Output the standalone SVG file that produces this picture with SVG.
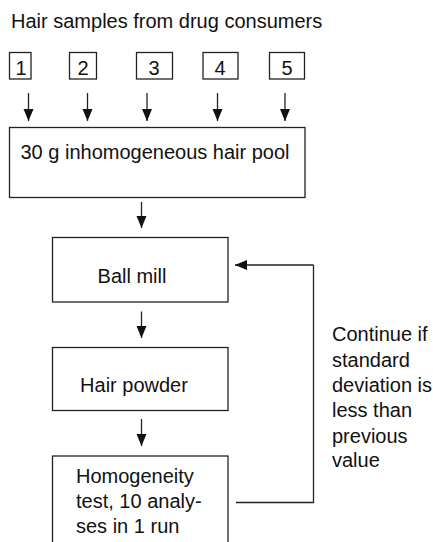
<svg xmlns="http://www.w3.org/2000/svg" width="433" height="542" viewBox="0 0 433 542">
  <defs>
    <marker id="arrow" markerUnits="userSpaceOnUse" markerWidth="12" markerHeight="14" viewBox="0 0 12 14" refX="12" refY="5" orient="auto">
      <path d="M0,0 L12,5 L0,10 Z" fill="#111"/>
    </marker>
    <style>
      .box { fill: #fff; stroke: #222; stroke-width: 1.3; }
      .edge { fill: none; stroke: #222; stroke-width: 1.3; marker-end: url(#arrow); }
      .line { fill: none; stroke: #222; stroke-width: 1.3; }
      text { font-family: "Liberation Sans", Arial, sans-serif; font-size: 20px; fill: #111; }
      .c { text-anchor: middle; }
    </style>
  </defs>
  <rect width="433" height="542" fill="#fff"/>

  <text id="title" x="11" y="28">Hair samples from drug consumers</text>

  <g id="sample-1"><rect class="box" x="9.5" y="52.5" width="21.5" height="26.5"/><text class="c" x="21" y="75">1</text></g>
  <g id="sample-2"><rect class="box" x="69.5" y="52.5" width="27" height="26.5"/><text class="c" x="83" y="75">2</text></g>
  <g id="sample-3"><rect class="box" x="136.5" y="52.5" width="36" height="26.5"/><text class="c" x="154" y="75">3</text></g>
  <g id="sample-4"><rect class="box" x="203" y="52.5" width="35" height="26.5"/><text class="c" x="220" y="75">4</text></g>
  <g id="sample-5"><rect class="box" x="269.5" y="52.5" width="35" height="26.5"/><text class="c" x="287" y="75">5</text></g>

  <g id="pool"><rect class="box" x="9.5" y="127.5" width="295.5" height="70"/><text class="c" x="155" y="159">30 g inhomogeneous hair pool</text></g>
  <g id="ball-mill"><rect class="box" x="52.5" y="237.5" width="175.5" height="64.5"/><text class="c" x="132" y="283">Ball mill</text></g>
  <g id="hair-powder"><rect class="box" x="52.5" y="347.5" width="175.5" height="63"/><text class="c" x="134" y="391.5">Hair powder</text></g>
  <g id="homogeneity-test">
    <rect class="box" x="52.5" y="456" width="175.5" height="100"/>
    <text x="76" y="483">Homogeneity</text>
    <text x="76" y="508">test, 10 analy-</text>
    <text x="76" y="533">ses in 1 run</text>
  </g>

  <g id="condition">
    <text x="332" y="341">Continue if</text>
    <text x="332" y="367">standard</text>
    <text x="332" y="392">deviation is</text>
    <text x="332" y="417">less than</text>
    <text x="332" y="443">previous</text>
    <text x="332" y="467">value</text>
  </g>

  <g id="connectors">
    <line class="edge" x1="28.5" y1="93" x2="28.5" y2="121"/>
    <line class="edge" x1="87.5" y1="93" x2="87.5" y2="121"/>
    <line class="edge" x1="147" y1="93" x2="147" y2="121"/>
    <line class="edge" x1="217.5" y1="93" x2="217.5" y2="121"/>
    <line class="edge" x1="285" y1="93" x2="285" y2="121"/>
    <line class="edge" x1="141.5" y1="202" x2="141.5" y2="228"/>
    <line class="edge" x1="141.5" y1="311.5" x2="141.5" y2="338"/>
    <line class="edge" x1="141.5" y1="419" x2="141.5" y2="446"/>
    <path class="line" d="M236,502.5 H313.5 V265"/>
    <line class="edge" x1="313.5" y1="265" x2="235" y2="265"/>
  </g>
</svg>
